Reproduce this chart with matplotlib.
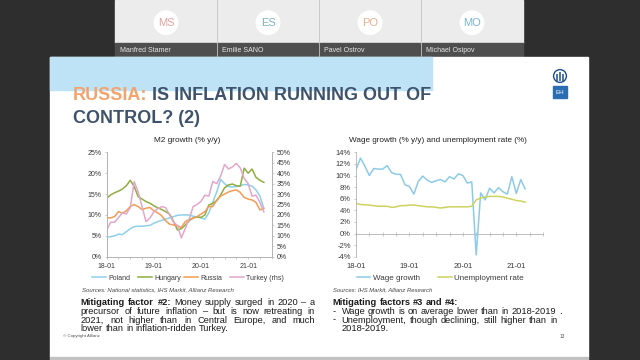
import matplotlib
matplotlib.use('Agg')
import matplotlib.pyplot as plt
from matplotlib.patches import Rectangle, Circle

plt.rcParams['font.family'] = ['Liberation Sans', 'DejaVu Sans']

# ---- data (month index 0 = 18-01) ----
months_m2 = list(range(41))
poland = [4.7, 4.8, 5.0, 5.4, 5.3, 6.0, 6.7, 7.2, 7.3, 7.3, 7.4, 7.5, 8.0, 8.4, 8.7, 9.0,
          9.3, 9.6, 9.9, 10.0, 10.0, 10.0, 9.7, 9.5, 9.3, 9.0, 10.5, 13.0, 15.5, 18.5, 17.5,
          16.8, 16.7, 16.8, 17.0, 17.3, 17.2, 16.9, 16.0, 14.5, 11.5]
hungary = [14.0, 14.8, 15.3, 15.7, 16.2, 17.0, 18.3, 16.8, 14.4, 13.8, 13.2, 12.8, 12.2, 11.7,
           11.3, 10.8, 10.2, 8.5, 6.4, 6.7, 7.6, 8.6, 9.3, 9.5, 9.4, 10.0, 12.4, 12.8, 13.4,
           14.8, 16.5, 17.2, 17.4, 17.0, 16.9, 21.2, 20.0, 21.0, 19.0, 18.3, 17.8]
russia = [9.3, 9.3, 9.6, 10.8, 10.4, 11.0, 12.0, 12.5, 12.0, 11.3, 11.6, 11.8, 11.0, 10.5, 9.8,
          8.6, 7.8, 7.6, 7.4, 7.0, 8.4, 8.9, 9.2, 9.6, 10.2, 10.8, 12.0, 12.0, 13.5, 14.5, 15.0,
          15.5, 15.8, 16.0, 15.4, 14.2, 13.8, 13.6, 13.0, 11.2, 11.6]
turkey = [12.8, 16.5, 16.5, 18.7, 21.0, 20.5, 23.5, 36.0, 31.0, 24.0, 16.8, 18.5, 21.5, 23.0,
          24.0, 23.5, 20.0, 16.5, 15.0, 9.0, 13.5, 18.0, 24.0, 25.0, 26.5, 29.5, 29.0, 36.0,
          35.0, 38.5, 44.2, 42.0, 43.0, 44.7, 42.5, 37.5, 35.0, 29.0, 29.5, 26.0, 21.5]
m2_labels = ['Poland', 'Hungary', 'Russia', 'Turkey (rhs)']

months_wage = list(range(39))
wage = [11.0, 13.0, 11.6, 10.0, 11.2, 11.1, 11.1, 11.7, 10.5, 10.2, 10.2, 8.4, 8.1, 6.8, 9.0,
        9.9, 9.2, 8.8, 9.1, 9.3, 8.9, 9.8, 9.4, 10.3, 10.0, 8.7, 8.9, -3.7, 7.0, 5.8, 7.8, 7.0,
        7.9, 7.2, 6.8, 9.8, 6.9, 9.3, 7.7]
unemployment = [5.2, 5.0, 4.95, 4.9, 4.8, 4.7, 4.7, 4.7, 4.5, 4.6, 4.8, 4.8, 4.9, 4.9, 4.8,
                4.7, 4.6, 4.6, 4.5, 4.4, 4.5, 4.6, 4.6, 4.6, 4.6, 4.6, 4.7, 5.8, 6.1, 6.3, 6.4,
                6.4, 6.4, 6.3, 6.1, 5.9, 5.7, 5.6, 5.4]
wage_labels = ['Wage growth', 'Unemployment rate']

year_ticks = [0, 12, 24, 36]
year_labels = ['18-01', '19-01', '20-01', '21-01']
participants = ['Manfred Stamer', 'Emilie SANO', 'Pavel Ostrov', 'Michael Osipov']
initials = ['MS', 'ES', 'PO', 'MO']
initial_colors = ['#e3a3a0', '#7fb4bb', '#e6ae8c', '#78b4da']

c_poland, c_hungary, c_russia, c_turkey = '#8fd0ea', '#8fae3e', '#f29c55', '#e2a7c9'
c_wage, c_unemp = '#8ccbe8', '#cdd35e'
grey = '#b3b3b3'
txt = '#3a3a3a'

fig = plt.figure(figsize=(6.4, 3.6), dpi=100)
bg = fig.add_axes([0, 0, 1, 1])
bg.set_xlim(0, 640)
bg.set_ylim(360, 0)
bg.axis('off')
renderer = fig.canvas.get_renderer()


def text_width(s, size, **kw):
    t = bg.text(0, 0, s, fontsize=size, **kw)
    w = t.get_window_extent(renderer).width
    t.remove()
    return w


def fit(s, width, **kw):
    return 10 * width / text_width(s, 10, **kw)


def px_axes(x0, y0, x1, y1):
    return fig.add_axes([x0 / 640, 1 - y1 / 360, (x1 - x0) / 640, (y1 - y0) / 360])


def word_line(s, n_bold, x0, x1, y, size, justify, color='#1a1a1a'):
    words = s.split(' ')
    arts, widths = [], []
    for i, w in enumerate(words):
        t = bg.text(0, y, w, fontsize=size, va='baseline', ha='left', color=color,
                    fontweight='bold' if i < n_bold else 'normal')
        arts.append(t)
        widths.append(t.get_window_extent(renderer).width)
    if justify and len(words) > 1:
        gap = (x1 - x0 - sum(widths)) / (len(words) - 1)
    else:
        gap = size * 100 / 72 * 0.278
    x = x0
    for t, w in zip(arts, widths):
        t.set_x(x)
        x += w + gap


# ---- video-call frame ----
bg.add_patch(Rectangle((0, 0), 640, 360, color='#2e2e2e'))
for i, (name, ini, col) in enumerate(zip(participants, initials, initial_colors)):
    x0 = 115 + i * 102
    bg.add_patch(Rectangle((x0, 0), 102, 43.3, color='#ececec'))
    bg.add_patch(Rectangle((x0, 43.3), 102, 13.4, color='#4e4e4e'))
    if i > 0:
        bg.plot([x0, x0], [0, 56.7], color='#c4c4c4', lw=0.6)
    bg.add_patch(Circle((x0 + 51, 22.7), 11.7, color='white'))
    bg.text(x0 + 51, 23, ini, fontsize=8, color=col, ha='center', va='center',
            fontweight='light')
    bg.text(x0 + 5, 50.5, name, fontsize=5, color='#e8e8e8', ha='left', va='center')

# ---- slide ----
bg.add_patch(Rectangle((50, 56.7), 538.3, 300.3, color='white'))
bg.add_patch(Rectangle((50, 357), 538.3, 3, color='#c2c2c2'))
bg.add_patch(Rectangle((50, 56.7), 381.7, 33.3, color='#bfe3f6'))

title1 = 'RUSSIA: IS INFLATION RUNNING OUT OF'
tsize = fit(title1, 356, fontweight='bold')
bg.text(72.7, 100, 'RUSSIA:', fontsize=tsize, fontweight='bold', color='#f2a46c', va='baseline')
wr = text_width('RUSSIA: ', tsize, fontweight='bold')
bg.text(72.7 + wr, 100, 'IS INFLATION RUNNING OUT OF', fontsize=tsize, fontweight='bold',
        color='#3e526c', va='baseline')
bg.text(72.7, 123.3, 'CONTROL? (2)', fontsize=tsize, fontweight='bold', color='#3e526c',
        va='baseline')

# logo
bg.add_patch(Circle((560, 76), 6.4, fill=False, ec='#1d4f8f', lw=1.0))
for bx, top in [(557.4, 73.5), (560, 71.8), (562.6, 73.5)]:
    bg.plot([bx, bx], [top, 80.5], color='#1d4f8f', lw=1.1, solid_capstyle='butt')
bg.add_patch(Rectangle((552.7, 86), 14, 12.3, color='#2a6db2'))
bg.text(559.7, 92.3, 'EH', fontsize=4.5, color='white', ha='center', va='center')

# ---- left chart: M2 growth ----
ax1 = px_axes(106.7, 152.3, 271.7, 256.7)
ax1.patch.set_alpha(0)
lp, = ax1.plot(months_m2, poland, color=c_poland, lw=1.1)
lh, = ax1.plot(months_m2, hungary, color=c_hungary, lw=1.1)
lr, = ax1.plot(months_m2, russia, color=c_russia, lw=1.1)
ax1.set_xlim(0, 42)
ax1.set_ylim(0, 25)
ax1.set_yticks(range(0, 26, 5))
ax1.set_yticklabels([f'{v}%' for v in range(0, 26, 5)])
ax1.set_xticks(year_ticks)
ax1.set_xticklabels(year_labels)
ax1.set_xticks(range(0, 43, 3), minor=True)
ax2 = ax1.twinx()
lt, = ax2.plot(months_m2, turkey, color=c_turkey, lw=1.1)
ax2.set_ylim(0, 50)
ax2.set_yticks(range(0, 51, 5))
ax2.set_yticklabels([f'{v}%' for v in range(0, 51, 5)])
for a in (ax1, ax2):
    a.spines['top'].set_visible(False)
    for s in ('left', 'right', 'bottom'):
        a.spines[s].set_color(grey)
        a.spines[s].set_linewidth(0.6)
    a.tick_params(which='both', length=1.6, width=0.5, color=grey, labelcolor=txt,
                  labelsize=5, pad=2)
ax1.tick_params(axis='x', which='major', pad=3.2)

bg.text(186.7, 140, 'M2 growth (% y/y)', fontsize=fit('M2 growth (% y/y)', 67), color='#222222',
        ha='center', va='center')
for i, (ln, lab) in enumerate(zip([lp, lh, lr, lt], m2_labels)):
    fig.legend([ln], [lab], loc='center left', bbox_to_anchor=((92 + 46 * i) / 640, 1 - 278 / 360),
               frameon=False, fontsize=5, handlelength=2.0, handletextpad=0.3, borderpad=0,
               borderaxespad=0, labelcolor=txt)
bg.text(82, 290, 'Sources: National statistics, IHS Markit, Allianz Research', style='italic',
        fontsize=fit('Sources: National statistics, IHS Markit, Allianz Research', 152, style='italic'),
        color='#444444', va='center')

# ---- right chart: wages and unemployment ----
ax3 = px_axes(356, 152.3, 543, 256.7)
ax3.patch.set_alpha(0)
lw_, = ax3.plot(months_wage, wage, color=c_wage, lw=1.1)
lu, = ax3.plot(months_wage, unemployment, color=c_unemp, lw=1.1)
ax3.set_xlim(0, 42)
ax3.set_ylim(-4, 14)
ax3.set_yticks(range(-4, 15, 2))
ax3.set_yticklabels([f'{v}%' for v in range(-4, 15, 2)])
ax3.set_xticks(year_ticks)
ax3.set_xticklabels(year_labels)
for s in ('top', 'right', 'bottom'):
    ax3.spines[s].set_visible(False)
ax3.spines['left'].set_color(grey)
ax3.spines['left'].set_linewidth(0.6)
ax3.tick_params(axis='y', length=1.6, width=0.5, color=grey, labelcolor=txt, labelsize=5.5, pad=2)
ax3.tick_params(axis='x', length=0, labelcolor=txt, labelsize=5.5, pad=4.5)
zero = ax3.secondary_xaxis(4 / 18)
zero.set_xticks(range(0, 43, 3))
zero.set_xticklabels([])
zero.tick_params(direction='inout', length=3, width=0.5, color=grey)
for s in zero.spines.values():
    s.set_color(grey)
    s.set_linewidth(0.6)

wt = 'Wage growth (% y/y) and unemployment rate (%)'
bg.text(438.3, 140, wt, fontsize=fit(wt, 180), color='#222222', ha='center', va='center')
for i, (ln, lab) in enumerate(zip([lw_, lu], wage_labels)):
    fig.legend([ln], [lab], loc='center left', bbox_to_anchor=((356.7 + 81.3 * i) / 640, 1 - 278 / 360),
               frameon=False, fontsize=5.8, handlelength=1.7, handletextpad=0.3, borderpad=0,
               borderaxespad=0, labelcolor=txt)
bg.text(332.7, 290, 'Sources: IHS Markit, Allianz Research', style='italic',
        fontsize=fit('Sources: IHS Markit, Allianz Research', 100, style='italic'),
        color='#444444', va='center')

# ---- body text ----
bsize = (fit('lower than in inflation-ridden Turkey.', 152) +
         fit('Wage growth is on average lower than in 2018-2019 .', 213)) / 2
word_line('Mitigating factor #2: Money supply surged in 2020 – a', 3, 80.7, 315, 305, bsize, True)
word_line('precursor of future inflation – but is now retreating in', 0, 80.7, 315, 314, bsize, True)
word_line('2021, not higher than in Central Europe, and much', 0, 80.7, 315, 322.6, bsize, True)
word_line('lower than in inflation-ridden Turkey.', 0, 80.7, 315, 331, bsize, False)

word_line('Mitigating factors #3 and #4:', 5, 332.7, 557, 305, bsize, False)
bg.text(333, 314.3, '-', fontsize=bsize, va='baseline', color='#1a1a1a')
word_line('Wage growth is on average lower than in 2018-2019 .', 0, 341.7, 557, 314.3, bsize, False)
bg.text(333, 322.6, '-', fontsize=bsize, va='baseline', color='#1a1a1a')
word_line('Unemployment, though declining, still higher than in', 0, 341.7, 557.3, 322.6, bsize, True)
word_line('2018-2019.', 0, 341.7, 557, 331, bsize, False)

bg.text(62.7, 336.5, '© Copyright Allianz', fontsize=3.2, color='#555555', va='center')
bg.text(560, 337, '13', fontsize=3.5, color='#555555', va='center')

fig.savefig('out.png', dpi=100)
